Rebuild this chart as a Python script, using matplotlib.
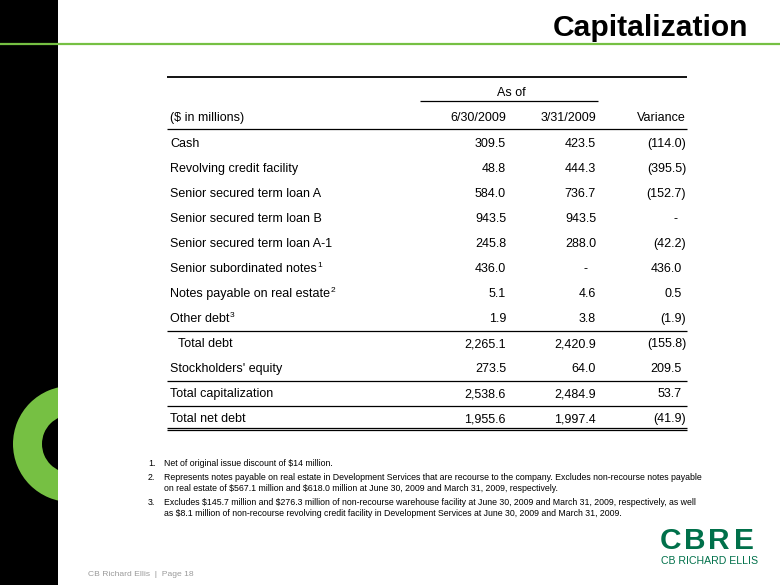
import matplotlib
matplotlib.use("Agg")
import matplotlib.pyplot as plt
from matplotlib.patches import Rectangle, Wedge

plt.rcParams['font.family'] = ['Liberation Sans', 'DejaVu Sans']

# ---------------- data ----------------
title = "Capitalization"
unit_label = "($ in millions)"
group_header = "As of"
column_headers = ["6/30/2009", "3/31/2009", "Variance"]
row_labels = ["Cash", "Revolving credit facility", "Senior secured term loan A",
              "Senior secured term loan B", "Senior secured term loan A-1",
              "Senior subordinated notes", "Notes payable on real estate",
              "Other debt", "Total debt", "Stockholders' equity",
              "Total capitalization", "Total net debt"]
row_superscripts = ["", "", "", "", "", "1", "2", "3", "", "", "", ""]
row_indent = [False] * 8 + [True] + [False] * 3
jun_2009 = [309.5, 48.8, 584.0, 943.5, 245.8, 436.0, 5.1, 1.9, 2265.1, 273.5, 2538.6, 1955.6]
mar_2009 = [423.5, 444.3, 736.7, 943.5, 288.0, None, 4.6, 3.8, 2420.9, 64.0, 2484.9, 1997.4]
variance = [-114.0, -395.5, -152.7, None, -42.2, 436.0, 0.5, -1.9, -155.8, 209.5, 53.7, -41.9]
rule_after_rows = [7, 9, 10]  # thin rules drawn below these rows
footnotes = [
    ("1.", ["Net of original issue discount of $14 million."]),
    ("2.", ["Represents notes payable on real estate in Development Services that are recourse to the company. Excludes non-recourse notes payable",
            "on real estate of $567.1 million and $618.0 million at June 30, 2009 and March 31, 2009, respectively."]),
    ("3.", ["Excludes $145.7 million and $276.3 million of non-recourse warehouse facility at June 30, 2009 and March 31, 2009, respectively, as well",
            "as $8.1 million of non-recourse revolving credit facility in Development Services at June 30, 2009 and March 31, 2009."]),
]
footer = "CB Richard Ellis  |  Page 18"
logo_main = "CBRE"
logo_sub = "CB RICHARD ELLIS"

# ---------------- layout ----------------
W, H = 780, 585
fig = plt.figure(figsize=(7.8, 5.85), dpi=100)
ax = fig.add_axes([0, 0, 1, 1])
ax.set_xlim(0, W)
ax.set_ylim(H, 0)
ax.axis('off')
renderer = fig.canvas.get_renderer()

GREEN = '#76C043'
DKGREEN = '#00704A'

# left black band + green ring (clipped to band)
band = Rectangle((0, 0), 58, H, facecolor='black', edgecolor='none', zorder=1)
ax.add_patch(band)
ring = Wedge((71, 444), 58, 0, 360, width=29, facecolor=GREEN, edgecolor='none', zorder=2)
ax.add_patch(ring)
ring.set_clip_path(band)
ax.plot([0, W], [43.5, 43.5], color=GREEN, lw=1.6, zorder=3, solid_capstyle='butt')

# title
ax.text(748, 36, title, ha='right', va='baseline', fontsize=21.6, fontweight='bold', color='black')

# table
x_left, x_right = 167, 687
col_right = [506, 596, 686]
fs = 9
def base(yc):
    return yc + 4.4

ax.plot([x_left, x_right], [77, 77], color='black', lw=1.3, solid_capstyle='butt')
ax.text(511, base(92), group_header, ha='center', va='baseline', fontsize=fs)
ax.plot([420, 598], [101, 101], color='black', lw=0.9, solid_capstyle='butt')
ax.text(170, base(117), unit_label, ha='left', va='baseline', fontsize=fs, parse_math=False)
for cr, h in zip(col_right, column_headers):
    ax.text(cr, base(117), h, ha='right', va='baseline', fontsize=fs)
ax.plot([x_left, x_right], [128.5, 128.5], color='black', lw=0.9, solid_capstyle='butt')

def fmt(v):
    s = f"{abs(v):,.1f}"
    return f"({s})" if v < 0 else s

row_y0, pitch = 143, 25.0
row_ys = []
for i, lab in enumerate(row_labels):
    yc = row_y0 + i * pitch
    row_ys.append(yc)
    x0 = 178 if row_indent[i] else 170
    t = ax.text(x0, base(yc), lab, ha='left', va='baseline', fontsize=fs, parse_math=False)
    if row_superscripts[i]:
        bb = t.get_window_extent(renderer=renderer)
        ax.text(bb.x1 + 0.3, base(yc) - 5.2, row_superscripts[i], ha='left', va='baseline', fontsize=6)
    for j, series in enumerate([jun_2009, mar_2009, variance]):
        v = series[i]
        cr = col_right[j]
        if v is None:
            ax.text(cr - 9, base(yc), "-", ha='right', va='baseline', fontsize=fs)
        elif v < 0:
            ax.text(cr, base(yc), fmt(v), ha='right', va='baseline', fontsize=fs)
        else:
            off = 4.5 if j == 2 else 0
            ax.text(cr - off, base(yc), fmt(v), ha='right', va='baseline', fontsize=fs)

for r in rule_after_rows:
    yl = row_ys[r] + 12.5
    ax.plot([x_left, x_right], [yl, yl], color='black', lw=0.9, solid_capstyle='butt')
yb = row_ys[-1] + 10
ax.plot([x_left, x_right], [yb, yb], color='black', lw=0.9, solid_capstyle='butt')
ax.plot([x_left, x_right], [yb + 2.2, yb + 2.2], color='black', lw=0.9, solid_capstyle='butt')

# footnotes
fy = 464
fn_fs = 6.3
for num, lines in footnotes:
    ax.text(148, fy + 2, num, ha='left', va='baseline', fontsize=fn_fs, parse_math=False)
    for k, ln in enumerate(lines):
        ax.text(164.5, fy + 2, ln, ha='left', va='baseline', fontsize=fn_fs, parse_math=False)
        fy += 11
    fy += 3

# footer
ax.text(88, 576.5, footer, ha='left', va='baseline', fontsize=6.1, color='#9A9A9A', parse_math=False)

# logo (letters placed across the logo width)
logo_x = [660, 684, 708.5, 734]
for xl, ch in zip(logo_x, logo_main):
    ax.text(xl, 549, ch, ha='left', va='baseline', fontsize=21.5, fontweight='bold', color=DKGREEN)
ax.text(710, 563.5, logo_sub, ha='center', va='baseline', fontsize=7.6, color=DKGREEN)

fig.savefig("out.png", dpi=100)
